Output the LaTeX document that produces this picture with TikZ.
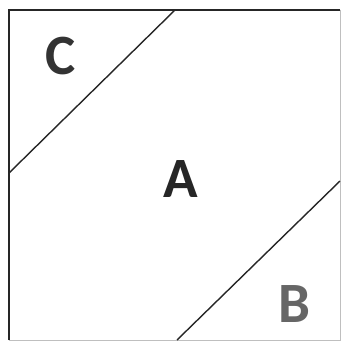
\documentclass[tikz,border=0pt]{standalone}
\usepackage{fontspec}
\setmainfont{Carlito}
\begin{document}
\begin{tikzpicture}[x=1pt,y=-1pt,
  edge/.style={line width=1.4pt,black!85},
  faint/.style={line width=1pt,black!25},
  lbl/.style={font=\fontsize{57}{60}\selectfont\bfseries,inner sep=0pt}]
\useasboundingbox[fill=white] (0,0) rectangle (342,342);
\coordinate (tl) at (9,10);
\coordinate (tr) at (340,10);
\coordinate (bl) at (9,340);
\coordinate (br) at (340,340);
\draw[faint] (tr) -- (br) -- (bl);
\draw[edge] (bl) -- (tl) -- (tr);
\coordinate (c1) at (175,10);
\coordinate (c2) at (9,173);
\coordinate (b1) at (340,181);
\coordinate (b2) at (177,340);
\draw[edge] (c1) -- (c2);
\draw[edge] (b1) -- (b2);
\node[lbl,text=black!80] (C) at (61,56) {C};
\node[lbl,text=black!85] (A) at (181,179) {A};
\node[lbl,text=black!60] (B) at (294,304) {B};
\end{tikzpicture}
\end{document}
